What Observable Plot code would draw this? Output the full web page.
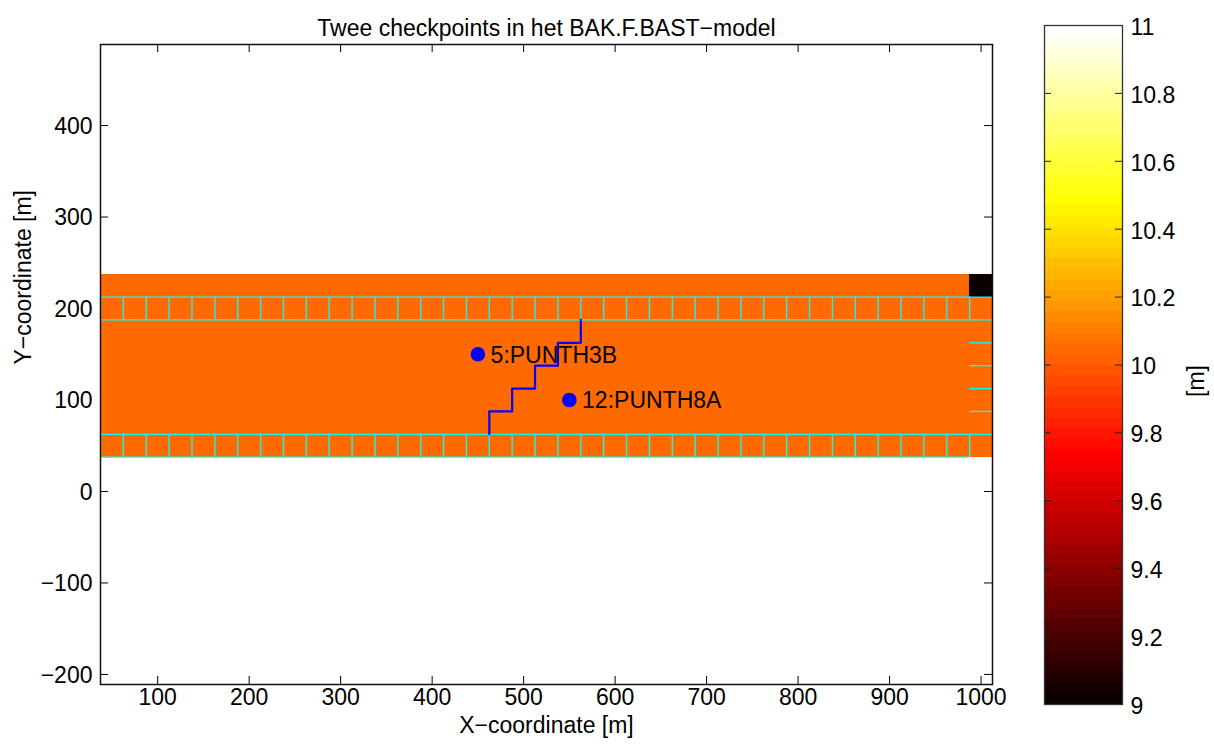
<!DOCTYPE html>
<html><head><meta charset="utf-8">
<script src="https://cdn.jsdelivr.net/npm/d3@7"></script>
<script src="https://cdn.jsdelivr.net/npm/@observablehq/plot@0.6"></script>
<style>
html,body{margin:0;padding:0;background:#fff;}
#wrap{position:relative;width:1214px;height:748px;overflow:hidden;background:#fff;}
#wrap svg{position:absolute;left:0;top:0;}
</style></head><body><div id="wrap"></div>
<script>
// ---- data ----
const titleText = "Twee checkpoints in het BAK.F.BAST\u2212model";
const xLabel = "X\u2212coordinate [m]";
const yLabel = "Y\u2212coordinate [m]";
const cbLabel = "[m]";
const colCenters = [50,75,100,125,150,175,200,225,250,275,300,325,350,375,400,425,450,475,500,525,550,575,600,625,650,675,700,725,750,775,800,825,850,875,900,925,950,975,1000];
const rowCenters = [50,75,100,125,150,175,200,225];
const cellSize = 25;
const baseLevel = 10.05;
const specialCells = [{x: 1000, y: 225, level: 9.0}];
const damRows = [{y1: 187.5, y2: 212.5}, {y1: 37.5, y2: 62.5}];
const damLinesH = [
  {y: 212.5, x1: 37.5, x2: 1012.5},
  {y: 187.5, x1: 37.5, x2: 1012.5},
  {y: 62.5, x1: 37.5, x2: 1012.5},
  {y: 37.5, x1: 37.5, x2: 987.5},
  {y: 162.5, x1: 987.5, x2: 1012.5},
  {y: 137.5, x1: 987.5, x2: 1012.5},
  {y: 112.5, x1: 987.5, x2: 1012.5},
  {y: 87.5, x1: 987.5, x2: 1012.5}
];
const crossSection = [
  {x: 462.5, y: 62.5}, {x: 462.5, y: 87.5}, {x: 487.5, y: 87.5}, {x: 487.5, y: 112.5},
  {x: 512.5, y: 112.5}, {x: 512.5, y: 137.5}, {x: 537.5, y: 137.5}, {x: 537.5, y: 162.5},
  {x: 562.5, y: 162.5}, {x: 562.5, y: 187.5}
];
const checkpoints = [
  {x: 450, y: 150, name: "5:PUNTH3B"},
  {x: 550, y: 100, name: "12:PUNTH8A"}
];
const xTicks = [100,200,300,400,500,600,700,800,900,1000];
const yTicks = [-200,-100,0,100,200,300,400];
const cbTicks = [9,9.2,9.4,9.6,9.8,10,10.2,10.4,10.6,10.8,11];
const cbTickLabels = ["9","9.2","9.4","9.6","9.8","10","10.2","10.4","10.6","10.8","11"];
const xDomain = [37.5, 1012.5];
const yDomain = [-211, 488.6];
const cDomain = [9, 11];

// ---- MATLAB hot colormap (64 levels) ----
function hot(t) {
  const i = Math.min(64, Math.floor(Math.max(0, t) * 64) + 1);
  const r = Math.min(1, i / 24);
  const g = Math.max(0, Math.min(1, (i - 24) / 24));
  const b = Math.max(0, Math.min(1, (i - 48) / 16));
  return `rgb(${Math.round(r*255)},${Math.round(g*255)},${Math.round(b*255)})`;
}
const colorOpts = {type: "linear", domain: cDomain, interpolate: hot};

const cells = colCenters.flatMap(x => rowCenters.map(y => {
  const s = specialCells.find(c => c.x === x && c.y === y);
  return {x, y, level: s ? s.level : baseLevel};
}));
const damLinesV = damRows.flatMap(r => colCenters.map(c => ({x: c - cellSize/2, y1: r.y1, y2: r.y2})));

const font = "'Liberation Sans', Arial, Helvetica, sans-serif";
const fs = 23;
const W = 1214, H = 748;
const mL = 100, mR = 222, mT = 44, mB = 64;
const pxPerM = (W - mL - mR) / (xDomain[1] - xDomain[0]);
const tl = 8 / pxPerM;

const main = Plot.plot({
  width: W, height: H,
  marginLeft: mL, marginRight: mR, marginTop: mT, marginBottom: mB,
  x: {domain: xDomain, axis: null},
  y: {domain: yDomain, axis: null},
  color: colorOpts,
  style: {fontFamily: font, fontSize: fs + "px", background: "transparent", overflow: "visible"},
  marks: [
    Plot.ruleX(xTicks, {x: d => d, y1: yDomain[0], y2: yDomain[0] + tl, stroke: "black"}),
    Plot.ruleX(xTicks, {x: d => d, y1: yDomain[1] - tl, y2: yDomain[1], stroke: "black"}),
    Plot.ruleY(yTicks, {y: d => d, x1: xDomain[0], x2: xDomain[0] + tl, stroke: "black"}),
    Plot.ruleY(yTicks, {y: d => d, x1: xDomain[1] - tl, x2: xDomain[1], stroke: "black"}),
    Plot.rect(cells, {x1: d => d.x - cellSize/2, x2: d => d.x + cellSize/2, y1: d => d.y - cellSize/2, y2: d => d.y + cellSize/2, fill: "level", shapeRendering: "crispEdges"}),
    Plot.ruleY(damLinesH, {y: "y", x1: "x1", x2: "x2", stroke: "cyan", strokeWidth: 1.3}),
    Plot.ruleX(damLinesV, {x: "x", y1: "y1", y2: "y2", stroke: "cyan", strokeWidth: 1.3}),
    Plot.line(crossSection, {x: "x", y: "y", stroke: "#0000ff", strokeWidth: 2.2}),
    Plot.dot(checkpoints, {x: "x", y: "y", r: 7.3, fill: "#0000ff", stroke: "none"}),
    Plot.text(checkpoints, {x: "x", y: "y", text: "name", textAnchor: "start", dx: 12.7, dy: 1, fontSize: fs, fill: "black"}),
    Plot.frame({stroke: "#111", strokeWidth: 1.5}),
    Plot.text(xTicks, {x: d => d, frameAnchor: "bottom", dy: 20.6, text: d => d3.format("d")(d), fontSize: fs, fill: "black"}),
    Plot.text(yTicks, {y: d => d, frameAnchor: "left", dx: -8, dy: 1, textAnchor: "end", text: d => d3.format("d")(d), fontSize: fs, fill: "black"}),
    Plot.text([titleText], {frameAnchor: "top", dy: -24.4, text: d => d, fontSize: fs, fill: "black"}),
    Plot.text([xLabel], {frameAnchor: "bottom", dy: 48.6, text: d => d, fontSize: fs, fill: "black"}),
    Plot.text([yLabel], {frameAnchor: "left", dx: -77, rotate: -90, text: d => d, fontSize: fs, fill: "black"})
  ]
});

// ---- colorbar ----
const bands = d3.range(64).map(k => ({lo: cDomain[0] + (cDomain[1]-cDomain[0]) * k / 64, hi: cDomain[0] + (cDomain[1]-cDomain[0]) * (k + 1) / 64}));
const cbL = 1044, cbR = 1122, cbT = 25, cbB = 704;
const cbTick = 7 / (cbR - cbL);
const cbar = Plot.plot({
  width: W, height: H,
  marginLeft: cbL, marginRight: W - cbR, marginTop: cbT, marginBottom: H - cbB,
  x: {domain: [0, 1], axis: null},
  y: {domain: cDomain, axis: null},
  color: colorOpts,
  style: {fontFamily: font, fontSize: fs + "px", background: "transparent", overflow: "visible"},
  marks: [
    Plot.rect(bands, {x1: 0, x2: 1, y1: "lo", y2: "hi", fill: d => (d.lo + d.hi) / 2, shapeRendering: "crispEdges"}),
    Plot.ruleY(cbTicks, {y: d => d, x1: 0, x2: cbTick, stroke: "#222"}),
    Plot.ruleY(cbTicks, {y: d => d, x1: 1 - cbTick, x2: 1, stroke: "#222"}),
    Plot.frame({stroke: "#333", strokeWidth: 1.3}),
    Plot.text(cbTicks, {y: d => d, frameAnchor: "right", dx: 8, dy: 2, textAnchor: "start", text: (d, i) => cbTickLabels[i], fontSize: fs, fill: "black"}),
    Plot.text([cbLabel], {frameAnchor: "right", dx: 74, rotate: -90, text: d => d, fontSize: fs, fill: "black"})
  ]
});

const wrap = document.getElementById("wrap");
wrap.appendChild(main);
wrap.appendChild(cbar);
</script></body></html>
